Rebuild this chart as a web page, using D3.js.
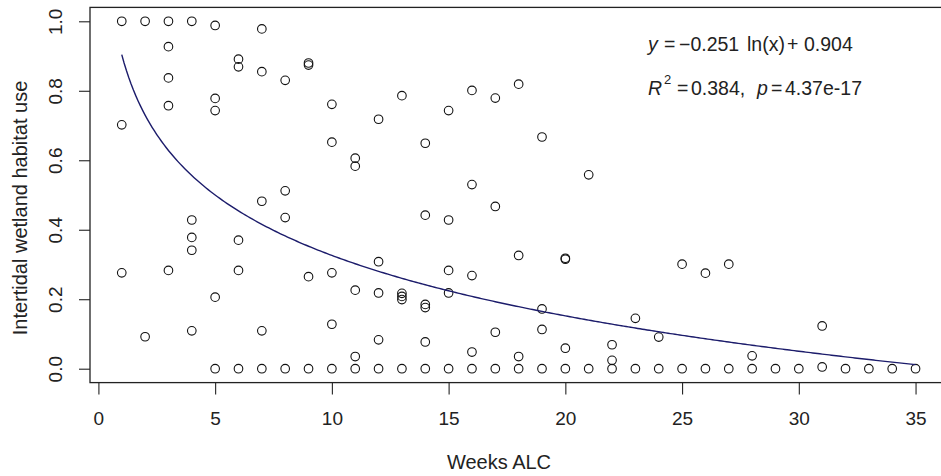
<!DOCTYPE html>
<html>
<head>
<meta charset="utf-8">
<script src="https://cdn.jsdelivr.net/npm/d3@7"></script>
<style>
  body { margin: 0; background: #fff; }
  svg { display: block; font-family: "Liberation Sans", Arial, sans-serif; }
  .axis text { font-size: 19px; fill: #222; }
  .axis line, .axis path { stroke: #222; stroke-width: 1.1; }
</style>
</head>
<body>
<div id="chart"></div>
<script>
// weeks since arrival and share of intertidal wetland use
var weeks = [1, 1, 1,
  2, 2,
  3, 3, 3, 3, 3,
  4, 4, 4, 4, 4,
  5, 5, 5, 5, 5,
  6, 6, 6, 6, 6,
  7, 7, 7, 7, 7,
  8, 8, 8, 8,
  9, 9, 9, 9,
  10, 10, 10, 10, 10,
  11, 11, 11, 11, 11,
  12, 12, 12, 12, 12,
  13, 13, 13, 13, 13,
  14, 14, 14, 14, 14, 14,
  15, 15, 15, 15, 15,
  16, 16, 16, 16, 16,
  17, 17, 17, 17,
  18, 18, 18, 18,
  19, 19, 19, 19,
  20, 20, 20, 20,
  21, 21,
  22, 22, 22,
  23, 23, 24, 24, 25, 25, 26, 26, 27, 27, 28, 28,
  29, 30, 31, 31, 32, 33, 34, 35]
var habitat_use = [1.0, 0.702, 0.276,
  1.0, 0.092,
  1.0, 0.927, 0.837, 0.757, 0.283,
  1.0, 0.428, 0.378, 0.341, 0.109,
  0.988, 0.778, 0.743, 0.206, 0,
  0.891, 0.869, 0.370, 0.283, 0,
  0.978, 0.855, 0.482, 0.109, 0,
  0.830, 0.512, 0.435, 0,
  0.880, 0.874, 0.265, 0,
  0.761, 0.652, 0.276, 0.128, 0,
  0.606, 0.583, 0.226, 0.035, 0,
  0.718, 0.308, 0.218, 0.083, 0,
  0.786, 0.217, 0.208, 0.199, 0,
  0.649, 0.442, 0.185, 0.176, 0.077, 0,
  0.743, 0.428, 0.283, 0.218, 0,
  0.801, 0.530, 0.268, 0.048, 0,
  0.779, 0.467, 0.105, 0,
  0.819, 0.326, 0.035, 0,
  0.667, 0.172, 0.113, 0,
  0.318, 0.315, 0.059, 0,
  0.558, 0,
  0.069, 0.024, 0,
  0.145, 0, 0.091, 0, 0.301, 0, 0.275, 0, 0.301, 0, 0.037, 0,
  0, 0, 0.123, 0.005, 0, 0, 0, 0]

var x_ticks = [0, 5, 10, 15, 20, 25, 30, 35]
var y_ticks = [0.0, 0.2, 0.4, 0.6, 0.8, 1.0]

// fitted model y = a ln(x) + b
var fit_a = -0.251
var fit_b = 0.904
var fit_range = [1, 35]

var width = 941, height = 476;

var svg = d3.select("#chart").append("svg")
    .attr("width", width)
    .attr("height", height);

// R style: 4% padding round the data range
var x = d3.scaleLinear().domain([-0.36, 36.36]).range([90, 947.3]);
var y = d3.scaleLinear().domain([-0.04, 1.04]).range([382.6, 7.4]);

// x axis
var xAxis = svg.append("g")
    .attr("class", "axis")
    .attr("transform", "translate(0," + y(-0.04) + ")")
    .call(d3.axisBottom(x).tickValues(x_ticks).tickSize(12).tickPadding(17).tickSizeOuter(0)
      .tickFormat(d3.format("d")));
xAxis.select(".domain").remove();

// y axis, labels parallel to the axis
var yAxis = svg.append("g")
    .attr("class", "axis")
    .attr("transform", "translate(" + x(-0.36) + ",0)")
    .call(d3.axisLeft(y).tickValues(y_ticks).tickSize(11).tickSizeOuter(0)
      .tickFormat(d3.format(".1f")));
yAxis.select(".domain").remove();
yAxis.selectAll(".tick text")
    .attr("transform", "rotate(-90)")
    .attr("x", 0)
    .attr("y", -28.5)
    .attr("dy", 0)
    .style("text-anchor", "middle");

// box
svg.append("rect")
    .attr("x", x(-0.36))
    .attr("y", y(1.04))
    .attr("width", x(36.36) - x(-0.36))
    .attr("height", y(-0.04) - y(1.04))
    .attr("fill", "none")
    .attr("stroke", "#222")
    .attr("stroke-width", 1.3);

// titles
svg.append("text")
    .attr("x", 499)
    .attr("y", 469)
    .attr("text-anchor", "middle")
    .style("font-size", "20px")
    .style("fill", "#222")
    .text("Weeks ALC");

svg.append("text")
    .attr("transform", "translate(27,208) rotate(-90)")
    .attr("text-anchor", "middle")
    .style("font-size", "20px")
    .style("fill", "#222")
    .text("Intertidal wetland habitat use");

// points
var points = weeks.map(function(w, i) { return {w: w, u: habitat_use[i]}; });
svg.append("g").selectAll("circle")
    .data(points)
    .enter()
    .append("circle")
    .attr("cx", function(d) { return x(d.w); })
    .attr("cy", function(d) { return y(d.u); })
    .attr("r", 4.3)
    .attr("fill", "none")
    .attr("stroke", "#111")
    .attr("stroke-width", 1.1);

// fitted curve
var curve_x = d3.range(fit_range[0], fit_range[1] + 0.001, 0.1);
var line = d3.line()
    .x(function(d) { return x(d); })
    .y(function(d) { return y(fit_a * Math.log(d) + fit_b); });
svg.append("path")
    .datum(curve_x)
    .attr("d", line)
    .attr("fill", "none")
    .attr("stroke", "#1c1c6b")
    .attr("stroke-width", 1.4);

// equation text
var eq = svg.append("g").style("font-size", "19.5px").style("fill", "#222");
var l1 = eq.append("text").attr("x", 648).attr("y", 51);
l1.append("tspan").style("font-style", "italic").text("y");
l1.append("tspan").attr("x", 664).text("=");
l1.append("tspan").attr("x", 679).text("\u2212" + Math.abs(fit_a).toFixed(3));
l1.append("tspan").attr("x", 747).text("ln(x)");
l1.append("tspan").attr("x", 787).text("+");
l1.append("tspan").attr("x", 804).text(fit_b.toFixed(3));

var l2 = eq.append("text").attr("x", 648).attr("y", 95);
l2.append("tspan").style("font-style", "italic").text("R");
l2.append("tspan").attr("x", 664).attr("y", 84).style("font-size", "13px").text("2");
l2.append("tspan").attr("x", 677).attr("y", 95).text("=");
l2.append("tspan").attr("x", 691).text("0.384,");
l2.append("tspan").attr("x", 757).style("font-style", "italic").text("p");
l2.append("tspan").attr("x", 771).text("=");
l2.append("tspan").attr("x", 785).text("4.37e-17");
</script>
</body>
</html>
